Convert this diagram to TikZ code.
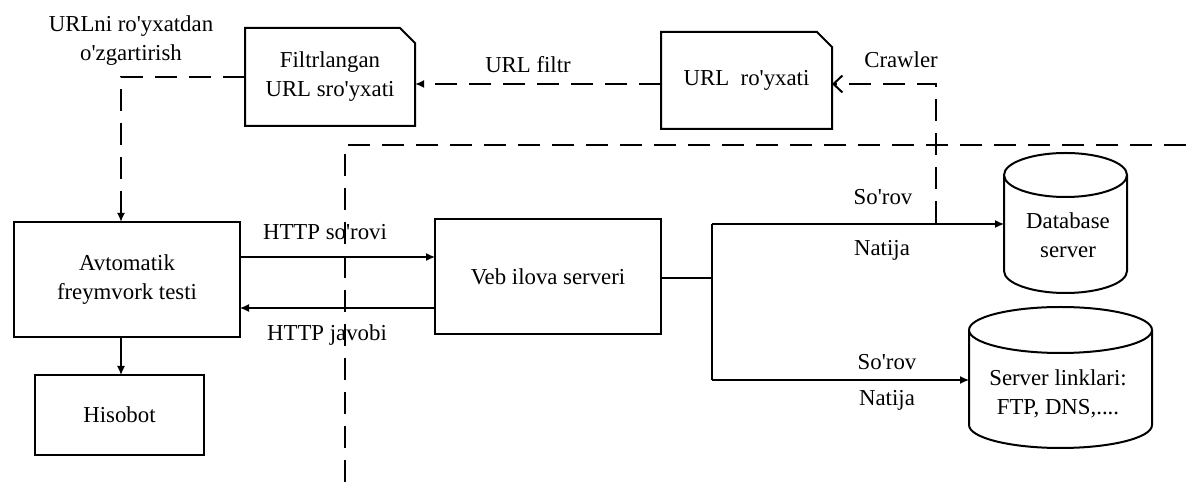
\documentclass[tikz,border=0pt]{standalone}
\usepackage{fontspec}
\setmainfont{Liberation Serif}
\newfontfamily\labelfont{Liberation Serif}[Ligatures=TeXOff]
\usetikzlibrary{arrows.meta,calc}
\begin{document}
\begin{tikzpicture}[x=0.5pt,y=-0.5pt,
  every node/.style={font=\labelfont\fontsize{11.4}{14.5}\selectfont, align=center, inner sep=0pt, outer sep=0pt},
  box/.style={draw, line width=1pt},
  frame/.style={line width=1pt},
  thin/.style={line width=0.65pt},
  arr/.style={thin, -{Latex[length=4.5pt,width=4pt]}},
  dline/.style={line width=1.4pt, dash pattern=on 11pt off 6pt},
  dasharr/.style={dline, -{Latex[length=4.5pt,width=4pt]}},
  openarr/.style={dline, -{Straight Barb[length=4.5pt,width=8.5pt,line width=1pt]}}
]
\useasboundingbox (0,0) rectangle (1186,490);

% document-shaped boxes (top-right corner cut)
\node (fl) [minimum width=85pt, minimum height=49pt] at (330,77) {Filtrlangan\\URL sro'yxati};
\draw[frame] (fl.south west) -- (fl.north west) -- ([xshift=-7.5pt]fl.north east)
  -- ([yshift=-7.5pt]fl.north east) -- (fl.south east) -- cycle;
\node (ul) [minimum width=85.5pt, minimum height=48.5pt] at (746.5,80.5) {URL\ \ ro'yxati};
\draw[frame] (ul.south west) -- (ul.north west) -- ([xshift=-7.5pt]ul.north east)
  -- ([yshift=-7.5pt]ul.north east) -- (ul.south east) -- cycle;

% plain boxes
\node (av) [box, minimum width=113pt, minimum height=57.5pt] at (127,279.5) {Avtomatik\\freymvork testi};
\node (hs) [box, minimum width=84.5pt, minimum height=40pt] at (119.5,415) {Hisobot};
\node (vb) [box, minimum width=113pt, minimum height=57.5pt] at (548,276.5) {Veb ilova serveri};

% cylinders
\node (db) [minimum width=61.5pt, minimum height=70pt] at (1065.5,223) {};
\draw[frame] ([yshift=-11pt]db.north west) -- ([yshift=11pt]db.south west)
  arc[start angle=180, end angle=360, x radius=30.75pt, y radius=11pt]
  -- ([yshift=-11pt]db.north east)
  arc[start angle=0, end angle=360, x radius=30.75pt, y radius=11pt];
\node (dbt) at (1068,235) {Database\\server};

\node (sl) [minimum width=91.5pt, minimum height=70.5pt] at (1060.5,377.5) {};
\draw[frame] ([yshift=-11.5pt]sl.north west) -- ([yshift=11.5pt]sl.south west)
  arc[start angle=180, end angle=360, x radius=45.75pt, y radius=11.5pt]
  -- ([yshift=-11.5pt]sl.north east)
  arc[start angle=0, end angle=360, x radius=45.75pt, y radius=11.5pt];
\node (slt) at (1058,394) {Server linklari:\\FTP, DNS,....};

% boundary of the server side
\draw[dline] (1186,145) -- (345,145) -- (345,484);

% URL list flow
\draw[dasharr] (ul.west |- 0,84) -- (fl.east |- 0,84);
\node (lf) at (528,65) {URL filtr};
\coordinate (cr) at (936,223);
\draw[openarr] (cr) |- (ul.east |- 0,84);
\node (lc) at (901,60) {Crawler};
\draw[dasharr] (fl.west) -| (121,222);
\node (lz) at (131,41) {URLni ro'yxatdan\\o'zgartirish};

% HTTP exchange
\draw[arr] (av.east |- 0,257) -- (vb.west |- 0,257);
\node (hq) at (325,232) {HTTP so'rovi};
\draw[arr] (vb.west |- 0,308) -- (av.east |- 0,308);
\node (hr) at (327,335) {HTTP javobi};
\draw[arr] (av.south -| 121,0) -- (hs.north -| 121,0);

% back-end requests
\coordinate (jt) at (712,224);
\coordinate (jb) at (712,380);
\draw[thin] (vb.east |- 0,278) -- (712,278);
\draw[thin] (jt) -- (jb);
\draw[arr] (jt) -- (jt -| db.west);
\draw[arr] (jb) -- (jb -| sl.west);
\node (q1) at (883,197) {So'rov};
\node (a1) at (882,250) {Natija};
\node (q2) at (887,362) {So'rov};
\node (a2) at (887,400) {Natija};
\end{tikzpicture}
\end{document}
